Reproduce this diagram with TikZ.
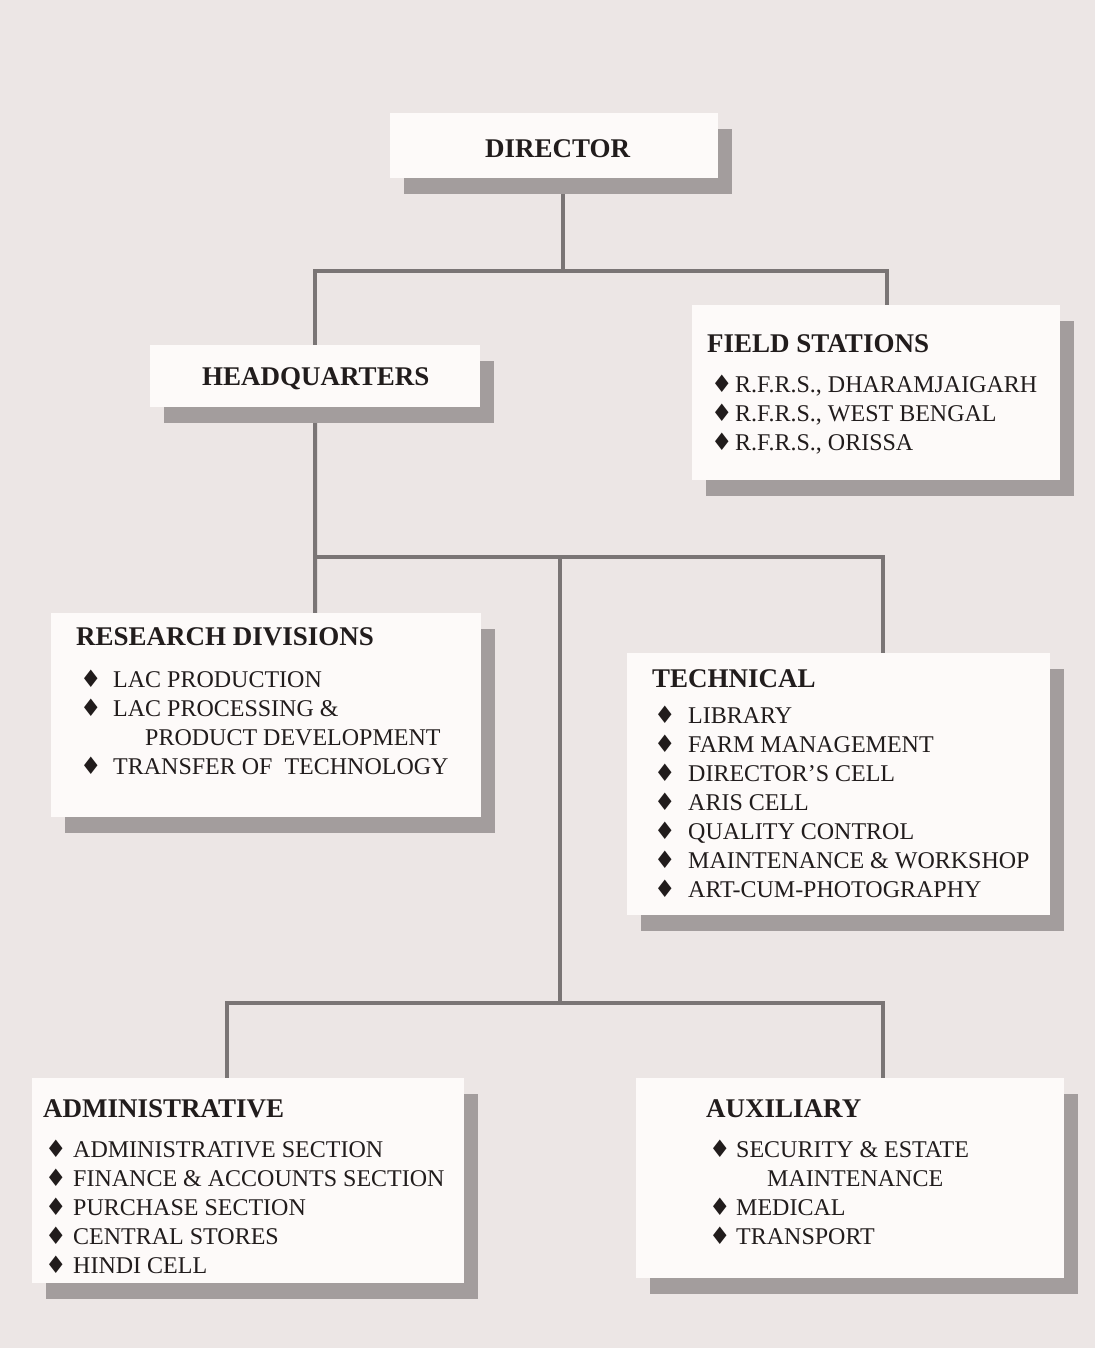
\documentclass[tikz,border=0pt]{standalone}
\usepackage{fontspec}
\setmainfont{Liberation Serif}
\newfontfamily\sym{DejaVu Sans}
\usetikzlibrary{shadows}
\definecolor{pagebg}{RGB}{236,230,229}
\definecolor{boxwhite}{RGB}{253,250,249}
\definecolor{shadowc}{RGB}{163,157,157}
\definecolor{linec}{RGB}{122,117,117}
\definecolor{inkc}{RGB}{33,28,28}
\pgfdeclarelayer{back}
\pgfdeclarelayer{lines}
\pgfsetlayers{back,lines,main}
\tikzset{
  orgbox/.style={fill=boxwhite, draw=none, inner sep=0pt, anchor=north west,
    drop shadow={shadow xshift=14pt, shadow yshift=-16pt, fill=shadowc, opacity=1}},
  hd/.style={anchor=base west, inner sep=0pt, text=inkc, font=\fontsize{27}{27}\selectfont\bfseries},
  itm/.style={anchor=base west, inner sep=0pt, text=inkc, font=\fontsize{24}{24}\selectfont},
  bul/.style={anchor=base west, inner sep=0pt, text=inkc, font=\sym\fontsize{24}{24}\selectfont},
  conn/.style={draw=linec, line width=4pt, line join=miter}
}
\begin{document}
\begin{tikzpicture}[x=1pt,y=-1pt]
\begin{pgfonlayer}{back}
\fill[pagebg] (0,0) rectangle (1095,1348);
\end{pgfonlayer}
\useasboundingbox (0,0) rectangle (1095,1348);

% boxes
\node[orgbox, minimum width=328pt, minimum height=65pt] (dir) at (390,113) {};
\node[orgbox, minimum width=330pt, minimum height=62pt] (hq) at (150,345) {};
\node[orgbox, minimum width=368pt, minimum height=175pt] (fs) at (692,305) {};
\node[orgbox, minimum width=430pt, minimum height=204pt] (rd) at (51,613) {};
\node[orgbox, minimum width=423pt, minimum height=262pt] (tech) at (627,653) {};
\node[orgbox, minimum width=432pt, minimum height=205pt] (adm) at (32,1078) {};
\node[orgbox, minimum width=428pt, minimum height=200pt] (aux) at (636,1078) {};

% junction coordinates
\coordinate (j1) at (563,271);
\coordinate (xr1) at (887,0);
\coordinate (j2) at (560,557);
\coordinate (xr2) at (883,0);
\coordinate (xl2) at (315,0);
\coordinate (j3) at (560,1003);
\coordinate (xl3) at (227,0);

\begin{pgfonlayer}{lines}
\draw[conn] (j1 |- dir.south) -- (j1);
\draw[conn] (hq.north) |- (j1) -| (fs.north -| xr1);
\draw[conn] (hq.south) -- (rd.north -| xl2);
\draw[conn] (j2 -| xl2) -| (tech.north -| xr2);
\draw[conn] (j2) -- (j3);
\draw[conn] (adm.north -| xl3) |- (j3) -| (aux.north -| xr2);
\end{pgfonlayer}

% Director
\node[hd] (dirT) at (485,158) {DIRECTOR};
% Headquarters
\node[hd] (hqT) at (202,385) {HEADQUARTERS};
% Field stations
\node[hd] (fsT) at (707,352) {FIELD STATIONS};
\node[bul] (fsb1) at (711,392) {♦};
\node[itm] (fs1) at (735,392) {R.F.R.S., DHARAMJAIGARH};
\node[bul] (fsb2) at (711,421) {♦};
\node[itm] (fs2) at (735,421) {R.F.R.S., WEST BENGAL};
\node[bul] (fsb3) at (711,450) {♦};
\node[itm] (fs3) at (735,450) {R.F.R.S., ORISSA};
% Research divisions
\node[hd] (rdT) at (76,645) {RESEARCH DIVISIONS};
\node[bul] (rdb1) at (80,687) {♦};
\node[itm] (rd1) at (113,687) {LAC PRODUCTION};
\node[bul] (rdb2) at (80,716) {♦};
\node[itm] (rd2) at (113,716) {LAC PROCESSING \&};
\node[itm] (rd3) at (145,745) {PRODUCT DEVELOPMENT};
\node[bul] (rdb4) at (80,774) {♦};
\node[itm] (rd4) at (113,774) {TRANSFER OF\ \ TECHNOLOGY};
% Technical
\node[hd] (techT) at (652,687) {TECHNICAL};
\node[bul] (tb1) at (654,723) {♦};
\node[itm] (t1) at (688,723) {LIBRARY};
\node[bul] (tb2) at (654,752) {♦};
\node[itm] (t2) at (688,752) {FARM MANAGEMENT};
\node[bul] (tb3) at (654,781) {♦};
\node[itm] (t3) at (688,781) {DIRECTOR’S CELL};
\node[bul] (tb4) at (654,810) {♦};
\node[itm] (t4) at (688,810) {ARIS CELL};
\node[bul] (tb5) at (654,839) {♦};
\node[itm] (t5) at (688,839) {QUALITY CONTROL};
\node[bul] (tb6) at (654,868) {♦};
\node[itm] (t6) at (688,868) {MAINTENANCE \& WORKSHOP};
\node[bul] (tb7) at (654,897) {♦};
\node[itm] (t7) at (688,897) {ART-CUM-PHOTOGRAPHY};
% Administrative
\node[hd] (admT) at (43,1117) {ADMINISTRATIVE};
\node[bul] (ab1) at (45,1157) {♦};
\node[itm] (a1) at (73,1157) {ADMINISTRATIVE SECTION};
\node[bul] (ab2) at (45,1186) {♦};
\node[itm] (a2) at (73,1186) {FINANCE \& ACCOUNTS SECTION};
\node[bul] (ab3) at (45,1215) {♦};
\node[itm] (a3) at (73,1215) {PURCHASE SECTION};
\node[bul] (ab4) at (45,1244) {♦};
\node[itm] (a4) at (73,1244) {CENTRAL STORES};
\node[bul] (ab5) at (45,1273) {♦};
\node[itm] (a5) at (73,1273) {HINDI CELL};
% Auxiliary
\node[hd] (auxT) at (706,1117) {AUXILIARY};
\node[bul] (xb1) at (709,1157) {♦};
\node[itm] (x1) at (736,1157) {SECURITY \& ESTATE};
\node[itm] (x2) at (767,1186) {MAINTENANCE};
\node[bul] (xb3) at (709,1215) {♦};
\node[itm] (x3) at (736,1215) {MEDICAL};
\node[bul] (xb4) at (709,1244) {♦};
\node[itm] (x4) at (736,1244) {TRANSPORT};
\end{tikzpicture}
\end{document}
